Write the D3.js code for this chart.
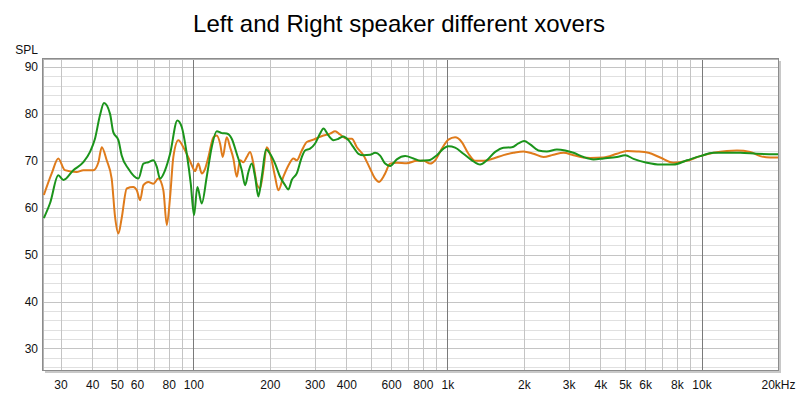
<!DOCTYPE html>
<html>
<head>
<meta charset="utf-8">
<script src="https://cdn.jsdelivr.net/npm/d3@7"></script>
<style>
  body { margin: 0; background: #fff; }
  svg { display: block; }
  text { font-family: "Liberation Sans", Arial, sans-serif; }
</style>
</head>
<body>
<svg id="chart" width="800" height="395"></svg>
<script>
// orange trace (Hz, dB SPL)
var orangeFreq = [25.8, 27.7, 29.4, 31.2, 34.7, 36.9, 40.4, 42.3, 43.6, 45.6, 47.7, 49.2, 50.7, 52.2, 54.7, 58.0, 59.9, 61.7, 63.6, 66.5, 69.6, 72.8, 76.2, 78.6, 81.0, 83.4, 87.3, 91.3, 97.1, 100, 101.6, 104.6, 107.9, 111.2, 114.6, 119.9, 123.6, 127.4, 130.5, 135.3, 139.5, 143.7, 148.2, 152.7, 157.3, 162.3, 167.2, 172.3, 177.7, 183.1, 188.6, 194.5, 200.4, 209.7, 216.1, 226.1, 236.6, 247.6, 255.3, 267.2, 279.6, 296.8, 310.6, 325, 345.4, 361.4, 378.2, 401.8, 420.5, 440, 467.1, 496.3, 519.3, 538.4, 559.8, 568.5, 595, 632, 692, 758, 805, 855, 895, 951, 1009, 1072, 1139, 1210, 1285, 1386, 1518, 1662, 1819, 1992, 2181, 2388, 2614, 2862, 3134, 3430, 3646, 4114, 4645, 5085, 5568, 6185, 6877, 7759, 8761, 9883, 11150, 12590, 13790, 15550, 17020, 18640, 20000];
var orangeSpl = [62.7, 67.3, 70.5, 68, 67.6, 68, 68, 69.7, 72.9, 70.1, 66.2, 58, 54.5, 57.7, 64.1, 64.4, 63.7, 61.6, 64.8, 65.5, 65.1, 66.2, 63.7, 56.3, 62.3, 70.8, 74.4, 72.9, 69.9, 68.3, 67.8, 69.4, 67.3, 68.3, 70.8, 75, 75.4, 73.7, 70.8, 75, 72.9, 70.5, 66.6, 70.1, 69.7, 70.8, 71.9, 69.4, 65.1, 64.1, 68, 72.9, 71.5, 66.6, 63.7, 66.6, 69, 70.5, 70.1, 72.2, 74, 74.5, 75, 75.4, 75.8, 76.3, 75.6, 74.7, 74.7, 72.9, 71.2, 68.3, 66.2, 65.5, 66.6, 67.3, 69.4, 69.6, 69.5, 70, 70, 69.4, 70.1, 72.6, 74.5, 75, 74, 71.5, 70, 70, 70.5, 71.2, 71.7, 72, 71.5, 70.8, 71.3, 71.7, 71.2, 70.7, 70.6, 70.7, 71.5, 72.1, 72, 71.7, 70.7, 69.6, 70, 71, 71.7, 72.1, 72.2, 71.9, 71, 70.7, 70.7];

// green trace (Hz, dB SPL)
var greenFreq = [25.8, 27.3, 29.4, 30.8, 33.7, 36.9, 39.2, 41.0, 42.9, 44.5, 47.0, 48.4, 50.7, 52.2, 55.5, 60.8, 63.6, 66.5, 69.6, 71.8, 73.9, 77.4, 81.0, 86.5, 90.0, 94.2, 97.7, 100.6, 103.7, 107.9, 112.9, 118.1, 123.6, 129.4, 135.3, 141.6, 148.2, 155.1, 159.8, 164.7, 169.8, 175, 180.3, 185.9, 193.3, 200.4, 209.7, 219.4, 229.6, 236.6, 244, 255.3, 267.2, 275.3, 288, 301.4, 315.4, 325, 340.1, 355.9, 372.4, 389.7, 407.7, 426.6, 446.4, 467.1, 496.3, 519.3, 543.3, 568.5, 595, 632, 682, 735, 781, 842, 909, 965, 1009, 1072, 1156, 1248, 1345, 1429, 1541, 1662, 1793, 1903, 2004, 2117, 2282, 2462, 2696, 2907, 3134, 3430, 3757, 4114, 4645, 5007, 5399, 6095, 6877, 7759, 8761, 9883, 11150, 12590, 14210, 16520, 20000];
var greenSpl = [57.8, 61, 66.9, 65.9, 68, 69.7, 71.9, 74.7, 79.7, 82.3, 80, 76.1, 74.4, 71.2, 68.3, 66.2, 69.4, 69.7, 70.1, 68.7, 66.2, 68, 71.5, 78.6, 77.2, 71.5, 65.1, 58.4, 64.4, 60.9, 66.6, 72.9, 76.3, 75.9, 75.8, 74.7, 71.5, 68, 64.8, 67.6, 69.4, 66.6, 62.4, 66.6, 72.4, 71.5, 69.4, 66.6, 64.8, 63.9, 65.9, 67.3, 70.8, 72.2, 72.6, 73.7, 75.8, 76.9, 75.4, 74.4, 74.7, 75.2, 74.4, 72.9, 71.5, 71.2, 71.3, 71.7, 71.1, 69.4, 68.9, 70.3, 71, 70.5, 70, 70.1, 71.2, 72.6, 73.1, 72.8, 71.5, 70.1, 69.2, 70.1, 71.9, 72.8, 72.9, 73.7, 74.2, 73.5, 72.2, 72, 72.4, 72.2, 71.7, 70.8, 70.3, 70.5, 70.8, 71.2, 70.4, 69.6, 69.2, 69.2, 70.1, 71, 71.7, 71.7, 71.7, 71.5, 71.4];

// axis ticks
var xTickValues = [30, 40, 50, 60, 80, 100, 200, 300, 400, 600, 800, 1000, 2000, 3000, 4000, 5000, 6000, 8000, 10000, 20000];
var xTickLabels = ["30", "40", "50", "60", "80", "100", "200", "300", "400", "600", "800", "1k", "2k", "3k", "4k", "5k", "6k", "8k", "10k", "20kHz"];
var xMinorGrid = [30, 40, 50, 60, 70, 80, 90, 200, 300, 400, 500, 600, 700, 800, 900, 2000, 3000, 4000, 5000, 6000, 7000, 8000, 9000];
var xMajorGrid = [100, 1000, 10000];
var yTickValues = [30, 40, 50, 60, 70, 80, 90];

var svg = d3.select("svg#chart");

var plotLeft = 43, plotRight = 778, plotTop = 59, plotBottom = 370;

var x = d3.scaleLog()
    .domain([25.6, 20000])
    .range([plotLeft, plotRight]);

var y = d3.scaleLinear()
    .domain([25.4, 91.7])
    .range([plotBottom, plotTop]);

// title
svg.append("text")
    .attr("x", 399)
    .attr("y", 32)
    .attr("text-anchor", "middle")
    .style("font-size", "24px")
    .style("fill", "#000")
    .text("Left and Right speaker different xovers");

svg.append("text")
    .attr("x", 38)
    .attr("y", 54)
    .attr("text-anchor", "end")
    .style("font-size", "12px")
    .style("fill", "#111")
    .text("SPL");

// frame with shadow
svg.append("rect")
    .attr("x", plotLeft + 2)
    .attr("y", plotTop + 2)
    .attr("width", plotRight - plotLeft + 1)
    .attr("height", plotBottom - plotTop + 1)
    .attr("fill", "#c8c8c8");

svg.append("rect")
    .attr("x", plotLeft)
    .attr("y", plotTop)
    .attr("width", plotRight - plotLeft)
    .attr("height", plotBottom - plotTop)
    .attr("fill", "#fff");

var grid = svg.append("g").attr("class", "grid");

// 2 dB horizontal lines
grid.selectAll("line.hminor")
    .data(d3.range(26, 92, 2))
    .enter().append("line")
    .attr("x1", plotLeft).attr("x2", plotRight)
    .attr("y1", function(d) { return Math.round(y(d)) + 0.5; })
    .attr("y2", function(d) { return Math.round(y(d)) + 0.5; })
    .attr("stroke", function(d) { return d % 10 === 0 ? "#c4c4c4" : "#e0e0e0"; });

grid.selectAll("line.vminor")
    .data(xMinorGrid)
    .enter().append("line")
    .attr("y1", plotTop).attr("y2", plotBottom)
    .attr("x1", function(d) { return Math.round(x(d)) + 0.5; })
    .attr("x2", function(d) { return Math.round(x(d)) + 0.5; })
    .attr("stroke", "#c4c4c4");

grid.selectAll("line.vmajor")
    .data(xMajorGrid)
    .enter().append("line")
    .attr("y1", plotTop).attr("y2", plotBottom)
    .attr("x1", function(d) { return Math.round(x(d)) + 0.5; })
    .attr("x2", function(d) { return Math.round(x(d)) + 0.5; })
    .attr("stroke", "#7a7a7a");

// plot border
svg.append("rect")
    .attr("x", plotLeft - 0.5)
    .attr("y", plotTop - 0.5)
    .attr("width", plotRight - plotLeft + 1)
    .attr("height", plotBottom - plotTop + 1)
    .attr("fill", "none")
    .attr("stroke", "#8c8c8c");

svg.append("line")
    .attr("x1", plotLeft + 0.5).attr("x2", plotLeft + 0.5)
    .attr("y1", plotTop).attr("y2", plotBottom)
    .attr("stroke", "#b4b4b4");

svg.append("line")
    .attr("x1", plotLeft).attr("x2", plotRight)
    .attr("y1", plotTop + 0.5).attr("y2", plotTop + 0.5)
    .attr("stroke", "#b4b4b4");

// curves
var line = d3.line()
    .x(function(d) { return x(d[0]); })
    .y(function(d) { return y(d[1]); })
    .curve(d3.curveMonotoneX);

svg.append("clipPath").attr("id", "plotclip")
    .append("rect")
    .attr("x", plotLeft).attr("y", plotTop)
    .attr("width", plotRight - plotLeft).attr("height", plotBottom - plotTop);

var curves = svg.append("g").attr("clip-path", "url(#plotclip)");

curves.append("path")
    .datum(d3.zip(orangeFreq, orangeSpl))
    .attr("d", line)
    .attr("fill", "none")
    .attr("stroke", "#df7b1b")
    .attr("stroke-width", 2)
    .attr("stroke-linejoin", "round");

curves.append("path")
    .datum(d3.zip(greenFreq, greenSpl))
    .attr("d", line)
    .attr("fill", "none")
    .attr("stroke", "#1b941b")
    .attr("stroke-width", 2)
    .attr("stroke-linejoin", "round");

// axes
var xAxis = d3.axisBottom(x)
    .tickValues(xTickValues)
    .tickFormat(function(d, i) { return xTickLabels[i]; })
    .tickSize(0)
    .tickPadding(9);

var yAxis = d3.axisLeft(y)
    .tickValues(yTickValues)
    .tickSize(0)
    .tickPadding(5);

var gx = svg.append("g")
    .attr("transform", "translate(0," + (plotBottom + 1) + ")")
    .call(xAxis);

var gy = svg.append("g")
    .attr("transform", "translate(" + plotLeft + ",0)")
    .call(yAxis);

gx.select(".domain").remove();
gy.select(".domain").remove();

svg.selectAll(".tick text")
    .style("font-size", "12px")
    .style("font-family", "\"Liberation Sans\", Arial, sans-serif")
    .style("fill", "#111");
</script>
</body>
</html>
